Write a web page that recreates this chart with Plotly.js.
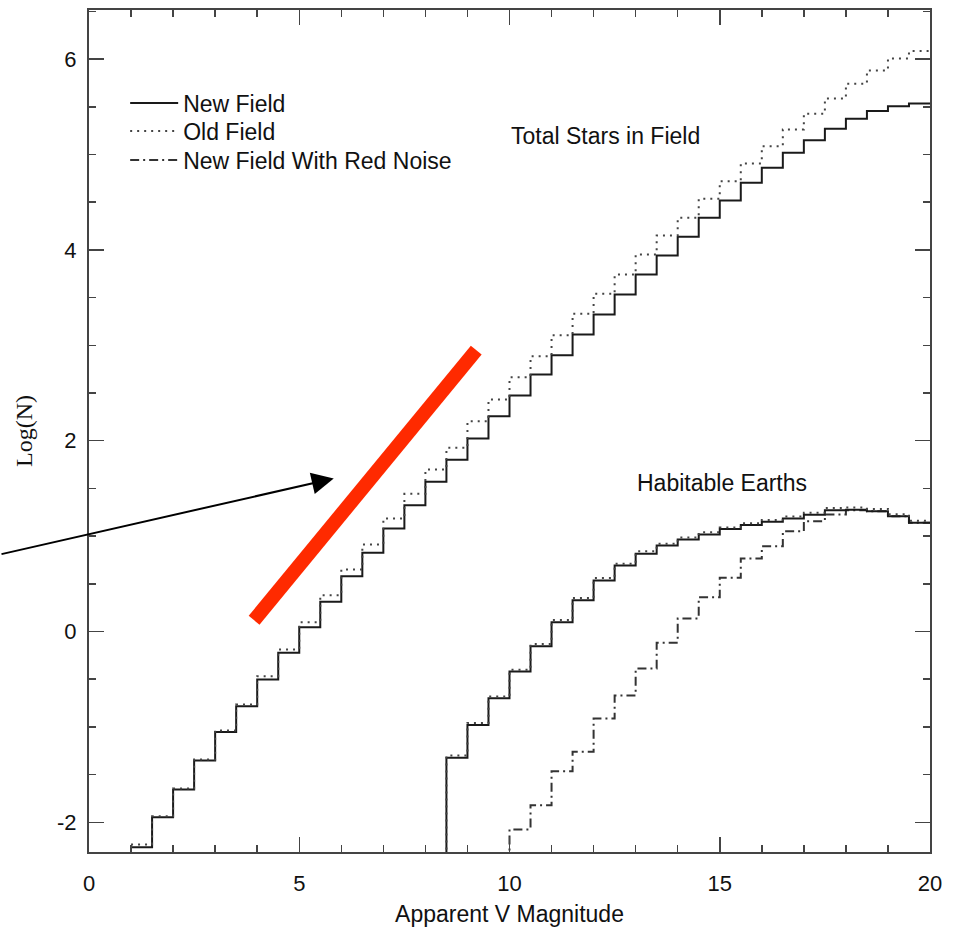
<!DOCTYPE html>
<html>
<head>
<meta charset="utf-8">
<script src="https://cdn.plot.ly/plotly-3.0.1.min.js"></script>
<style>html,body{margin:0;padding:0;background:#fff;}#chart{width:956px;height:927px;}</style>
</head>
<body>
<div id="chart"></div>
<script>
// ---- data (bin left edges, bin width 0.5 mag) ----
var totalStart = 1.0;
var totalNew = [-2.26, -1.946, -1.656, -1.352, -1.052, -0.783, -0.503, -0.223, 0.045, 0.311, 0.58, 0.825, 1.08, 1.324, 1.569, 1.80,
  2.023, 2.257, 2.474, 2.694, 2.896, 3.113, 3.323, 3.532, 3.742, 3.941, 4.137, 4.336, 4.518, 4.703, 4.86, 5.017, 5.15, 5.27, 5.375, 5.455, 5.506, 5.535];
var totalOld = [-2.233, -1.936, -1.646, -1.342, -1.038, -0.765, -0.468, -0.189, 0.098, 0.381, 0.65, 0.912, 1.184, 1.443, 1.698, 1.925,
  2.204, 2.432, 2.666, 2.886, 3.106, 3.33, 3.54, 3.742, 3.952, 4.151, 4.336, 4.535, 4.72, 4.906, 5.087, 5.262, 5.427, 5.587, 5.741, 5.881, 6.006, 6.083];

var habStart = 8.0;
var habNew = [-5, -1.324, -0.98, -0.70, -0.42, -0.154, 0.096, 0.328, 0.535, 0.692, 0.814, 0.901, 0.964, 1.017, 1.075, 1.115, 1.15, 1.185, 1.225, 1.27, 1.275, 1.261, 1.209, 1.139];
var habOld = [-5, -1.30, -0.96, -0.68, -0.40, -0.13, 0.12, 0.35, 0.56, 0.71, 0.84, 0.92, 0.985, 1.04, 1.09, 1.135, 1.17, 1.205, 1.245, 1.295, 1.30, 1.285, 1.23, 1.16];

var redStart = 9.5;
var habRed = [-5, -2.075, -1.82, -1.464, -1.261, -0.912, -0.671, -0.388, -0.118, 0.136, 0.36, 0.563, 0.765, 0.894, 1.051, 1.156, 1.226, 1.27, 1.26, 1.209, 1.139];

var binWidth = 0.5;
var seriesNames = ["New Field", "Old Field", "New Field With Red Noise"];
var xTickVals = [0, 5, 10, 15, 20];
var yTickVals = [-2, 0, 2, 4, 6];
var labelTotal = "Total Stars in Field";
var labelHab = "Habitable Earths";
var xTitle = "Apparent V Magnitude";
var yTitle = "Log(N)";

// ---- build step series ----
function steps(start, vals) {
  var x = [], y = [];
  for (var i = 0; i < vals.length; i++) { x.push(start + i * binWidth); y.push(vals[i]); }
  x.push(start + vals.length * binWidth); y.push(vals[vals.length - 1]);
  return {x: x, y: y};
}

var FONT = "Liberation Sans, Arial, Helvetica, sans-serif";
var SERIF = "Liberation Serif";
var solid = {color: "#1a1a1a", width: 2, shape: "hv", dash: "solid"};
var dotted = {color: "#444", width: 2, shape: "hv", dash: "2px,5px"};
var dashdot = {color: "#333", width: 2, shape: "hv", dash: "9px,4px,2px,4px"};

function tr(s, name, line, show, leg) {
  return {x: s.x, y: s.y, type: "scatter", mode: "lines", name: name,
    showlegend: show, legend: leg, line: line, hoverinfo: "skip"};
}

var data = [
  tr(steps(totalStart, totalNew), seriesNames[0], solid, true, "legend"),
  tr(steps(totalStart, totalOld), seriesNames[1], dotted, true, "legend2"),
  tr(steps(redStart, habRed), seriesNames[2], dashdot, true, "legend3"),
  tr(steps(habStart, habNew), seriesNames[0], solid, false, "legend"),
  tr(steps(habStart, habOld), seriesNames[1], dotted, false, "legend2")
];

var axisCommon = {
  showline: true, linecolor: "#444", linewidth: 2, mirror: "allticks",
  ticks: "inside", ticklen: 15, tickwidth: 1.5, tickcolor: "#444",
  showgrid: false, zeroline: false,
  tickfont: {family: FONT, size: 22, color: "#111"}
};

function leg(yc) {
  return {x: 0.043, y: yc, xanchor: "left", yanchor: "middle", bgcolor: "rgba(0,0,0,0)",
    font: {family: FONT, size: 23, color: "#111"}, itemwidth: 48};
}

var layout = {
  width: 956, height: 927,
  margin: {l: 89, r: 26, t: 10, b: 75},
  paper_bgcolor: "#fff", plot_bgcolor: "#fff",
  showlegend: true,
  legend: leg(0.8895),
  legend2: leg(0.8563),
  legend3: leg(0.8219),
  xaxis: Object.assign({}, axisCommon, {
    range: [0, 20], tickvals: xTickVals, ticktext: xTickVals.map(String),
    minor: {dtick: 1, tick0: 0, ticks: "inside", ticklen: 7, tickwidth: 1.5, tickcolor: "#444", showgrid: false},
    ticklabelstandoff: 11,
    title: {text: xTitle, font: {family: FONT, size: 23, color: "#111"}, standoff: 14}
  }),
  yaxis: Object.assign({}, axisCommon, {
    range: [-2.311, 6.514], tickvals: yTickVals, ticktext: yTickVals.map(String),
    minor: {dtick: 0.5, tick0: 0, ticks: "inside", ticklen: 7, tickwidth: 1.5, tickcolor: "#444", showgrid: false},
    ticklabelstandoff: 6,
    title: {text: yTitle, font: {family: SERIF, size: 24, color: "#111"}, standoff: 18}
  }),
  shapes: [
    {type: "line", xref: "x", yref: "y", x0: 3.926, y0: 0.118, x1: 9.209, y1: 2.949,
      line: {color: "#ff2a00", width: 14}}
  ],
  annotations: [
    {text: labelTotal, x: 12.28, y: 5.194, xref: "x", yref: "y", showarrow: false,
      font: {family: FONT, size: 23, color: "#111"}},
    {text: labelHab, x: 15.06, y: 1.56, xref: "x", yref: "y", showarrow: false,
      font: {family: FONT, size: 23, color: "#111"}},
    {text: "", x: 5.82, y: 1.604, xref: "x", yref: "y", showarrow: true,
      ax: -334, ay: 76, axref: "pixel", ayref: "pixel",
      arrowhead: 2, arrowsize: 2.2, arrowwidth: 2, arrowcolor: "#000"}
  ]
};

Plotly.newPlot("chart", data, layout, {staticPlot: true, displayModeBar: false});
</script>
</body>
</html>
